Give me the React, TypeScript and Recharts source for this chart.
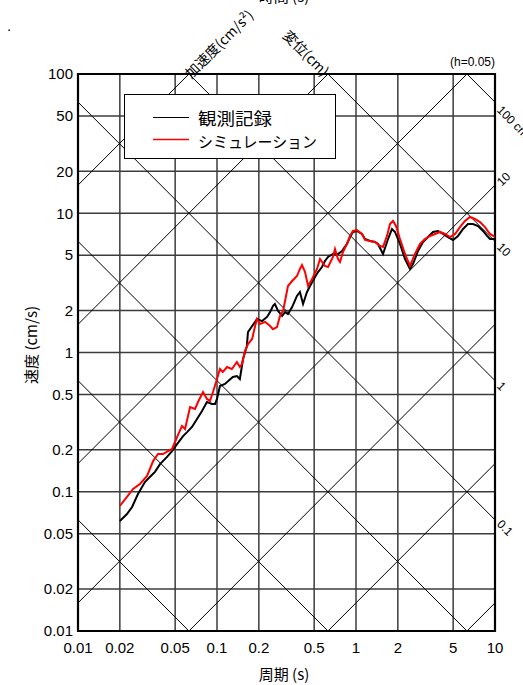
import React from 'react';
import {
  LineChart,
  Line,
  XAxis,
  YAxis,
  CartesianGrid,
  ReferenceLine,
  ReferenceArea,
} from 'recharts';

// ---- data (period in s, pseudo velocity response in cm/s, h=0.05) ----
const obsPeriods = [
  0.02, 0.0225, 0.0245, 0.027, 0.0303, 0.033, 0.0358, 0.0389, 0.0437, 0.0475,
  0.0516, 0.057, 0.0609, 0.0661, 0.0718, 0.078, 0.0847, 0.092, 0.0968, 0.1,
  0.105, 0.114, 0.13, 0.139, 0.146, 0.154, 0.164, 0.167, 0.179, 0.188,
  0.194, 0.211, 0.229, 0.241, 0.253, 0.261, 0.275, 0.294, 0.309, 0.324,
  0.347, 0.376, 0.395, 0.416, 0.444, 0.467, 0.507, 0.533, 0.569, 0.598,
  0.629, 0.683, 0.742, 0.793, 0.861, 0.906, 0.951, 1.016, 1.104, 1.161,
  1.261, 1.37, 1.439, 1.564, 1.7, 1.815, 1.908, 2.073, 2.252, 2.445,
  2.57, 2.793, 3.034, 3.296, 3.58, 3.89, 4.23, 4.59, 4.99, 5.42,
  5.89, 6.39, 6.94, 7.55, 8.2, 8.76, 9.2, 10,
];
const obsVelocity = [
  0.0617, 0.0692, 0.0777, 0.0964, 0.1175, 0.128, 0.139, 0.158, 0.178, 0.196,
  0.22, 0.251, 0.268, 0.292, 0.333, 0.38, 0.441, 0.427, 0.427, 0.464,
  0.575, 0.594, 0.667, 0.678, 0.645, 0.898, 1.11, 1.4, 1.55, 1.66,
  1.74, 1.68, 1.8, 1.95, 2.16, 2.23, 1.99, 1.83, 1.95, 1.89,
  2.12, 2.55, 2.72, 2.23, 2.72, 3.0, 3.48, 3.78, 4.11, 4.54,
  4.85, 5.1, 5.1, 5.36, 6.02, 6.75, 7.34, 7.46, 7.1, 6.53,
  6.32, 6.22, 6.02, 5.1, 6.53, 7.71, 7.34, 6.02, 4.69, 3.98,
  4.32, 5.36, 6.22, 6.75, 7.34, 7.46, 7.1, 6.75, 6.43, 6.87,
  7.71, 8.37, 8.37, 8.1, 7.46, 6.87, 6.53, 6.53,
];

const simPeriods = [
  0.02, 0.0225, 0.0249, 0.0279, 0.0314, 0.0347, 0.0376, 0.0409, 0.0444, 0.0475,
  0.0516, 0.056, 0.0589, 0.064, 0.0695, 0.073, 0.0793, 0.0847, 0.0891, 0.0936,
  0.1, 0.105, 0.11, 0.118, 0.128, 0.139, 0.146, 0.151, 0.159, 0.167,
  0.179, 0.188, 0.194, 0.204, 0.222, 0.241, 0.253, 0.27, 0.284, 0.299,
  0.324, 0.347, 0.376, 0.395, 0.409, 0.43, 0.452, 0.483, 0.524, 0.551,
  0.598, 0.629, 0.683, 0.706, 0.742, 0.767, 0.806, 0.861, 0.906, 0.951,
  1.016, 1.104, 1.161, 1.261, 1.37, 1.488, 1.564, 1.671, 1.756, 1.846,
  1.94, 2.073, 2.252, 2.445, 2.658, 2.886, 3.135, 3.41, 3.7, 4.02,
  4.37, 4.75, 5.16, 5.6, 6.08, 6.61, 7.18, 7.8, 8.47, 9.2, 10,
];
const simVelocity = [
  0.079, 0.0918, 0.1047, 0.1137, 0.1298, 0.166, 0.1866, 0.1866, 0.196, 0.203,
  0.247, 0.297, 0.282, 0.406, 0.393, 0.441, 0.52, 0.464, 0.449, 0.52,
  0.645, 0.761, 0.724, 0.787, 0.761, 0.855, 0.787, 0.827, 1.025, 1.15,
  1.25, 1.55, 1.74, 1.6, 1.66, 1.55, 1.47, 1.52, 1.83, 1.99,
  3.0, 3.26, 3.54, 3.98, 4.25, 3.78, 3.0, 3.37, 3.98, 4.69,
  4.18, 4.11, 4.85, 5.54, 4.69, 4.47, 5.27, 6.02, 6.87, 7.46,
  7.58, 7.1, 6.43, 6.32, 6.22, 5.82, 5.72, 6.87, 8.37, 8.8,
  8.1, 6.53, 5.1, 4.18, 5.1, 6.02, 6.53, 6.87, 7.1, 7.34,
  7.1, 6.75, 7.1, 7.96, 8.8, 9.4, 9.09, 8.65, 7.96, 7.1, 6.75,
];

const xTicks = [0.01, 0.02, 0.05, 0.1, 0.2, 0.5, 1, 2, 5, 10];
const yTicks = [0.01, 0.02, 0.05, 0.1, 0.2, 0.5, 1, 2, 5, 10, 20, 50, 100];
const xMinorTicks = [
  0.03, 0.04, 0.06, 0.07, 0.08, 0.09, 0.3, 0.4, 0.6, 0.7, 0.8, 0.9, 3, 4, 6, 7, 8, 9,
];
const yMinorTicks = [
  0.03, 0.04, 0.06, 0.07, 0.08, 0.09, 0.3, 0.4, 0.6, 0.7, 0.8, 0.9,
  3, 4, 6, 7, 8, 9, 30, 40, 60, 70, 80, 90,
];
// tripartite guide levels
const displacementLevels = [0.0001, 0.001, 0.01, 0.1, 1, 10, 100]; // cm
const accelerationLevels = [0.01, 0.1, 1, 10, 100, 1000, 10000]; // cm/s^2

const seriesNames = ['観測記録', 'シミュレーション'];
const xTitle = '周期 (s)';
const yTitle = '速度 (cm/s)';
const topTitle = '時間 (s)';

const X_DOMAIN: [number, number] = [0.01, 10];
const Y_DOMAIN: [number, number] = [0.01, 100];
const TWO_PI = 2 * Math.PI;

const obsData = obsPeriods.map((t, i) => ({ t, v: obsVelocity[i] }));
const simData = simPeriods.map((t, i) => ({ t, v: simVelocity[i] }));

type Seg = [{ x: number; y: number }, { x: number; y: number }];

const dispSegments: Seg[] = displacementLevels
  .map((d) => {
    const c = TWO_PI * d; // V = c / T
    const t1 = Math.max(X_DOMAIN[0], c / Y_DOMAIN[1]);
    const t2 = Math.min(X_DOMAIN[1], c / Y_DOMAIN[0]);
    if (t1 >= t2) return null;
    return [
      { x: t1, y: c / t1 },
      { x: t2, y: c / t2 },
    ] as Seg;
  })
  .filter((s): s is Seg => s !== null);

const accSegments: Seg[] = accelerationLevels
  .map((a) => {
    const k = a / TWO_PI; // V = k * T
    const t1 = Math.max(X_DOMAIN[0], Y_DOMAIN[0] / k);
    const t2 = Math.min(X_DOMAIN[1], Y_DOMAIN[1] / k);
    if (t1 >= t2) return null;
    return [
      { x: t1, y: k * t1 },
      { x: t2, y: k * t2 },
    ] as Seg;
  })
  .filter((s): s is Seg => s !== null);

const LATIN = "'Liberation Sans', Arial, 'Noto Sans CJK JP', sans-serif";
const JP = "'Noto Sans CJK JP', 'Liberation Sans', sans-serif";

const fmt = (v: number) => String(v);

export default function App() {
  const tickStyle = { fill: '#000', fontSize: 15, fontFamily: LATIN };
  return (
    <div style={{ position: 'absolute', left: 0, top: 0, width: 523, height: 685, background: '#fff' }}>
      <LineChart
        width={523}
        height={685}
        margin={{ top: 74, right: 28, bottom: 14, left: 18 }}
      >
        <CartesianGrid stroke="#3c3c3c" strokeWidth={1.5} fill="none" />
        <XAxis
          dataKey="t"
          type="number"
          scale="log"
          domain={X_DOMAIN}
          allowDataOverflow
          ticks={xTicks}
          interval={0}
          tickFormatter={fmt}
          axisLine={false}
          tickLine={false}
          tickSize={0}
          tickMargin={11}
          height={40}
          tick={tickStyle}
        />
        <YAxis
          type="number"
          scale="log"
          domain={Y_DOMAIN}
          allowDataOverflow
          ticks={yTicks}
          interval={0}
          tickFormatter={fmt}
          axisLine={false}
          tickLine={false}
          tickSize={0}
          tickMargin={5}
          width={60}
          tick={tickStyle}
        />
        {/* inward minor ticks on all four sides */}
        <XAxis
          xAxisId="minorBottom"
          orientation="bottom"
          mirror
          type="number"
          scale="log"
          domain={X_DOMAIN}
          allowDataOverflow
          ticks={xMinorTicks}
          interval={0}
          tick={false}
          axisLine={false}
          tickSize={7}
          height={1}
          stroke="#000"
          tickLine={{ stroke: '#000', strokeWidth: 1.3 }}
        />
        <XAxis
          xAxisId="minorTop"
          orientation="top"
          mirror
          type="number"
          scale="log"
          domain={X_DOMAIN}
          allowDataOverflow
          ticks={xMinorTicks}
          interval={0}
          tick={false}
          axisLine={false}
          tickSize={7}
          height={1}
          stroke="#000"
          tickLine={{ stroke: '#000', strokeWidth: 1.3 }}
        />
        <YAxis
          yAxisId="minorLeft"
          orientation="left"
          mirror
          type="number"
          scale="log"
          domain={Y_DOMAIN}
          allowDataOverflow
          ticks={yMinorTicks}
          interval={0}
          tick={false}
          axisLine={false}
          tickSize={7}
          width={1}
          stroke="#000"
          tickLine={{ stroke: '#000', strokeWidth: 1.3 }}
        />
        <YAxis
          yAxisId="minorRight"
          orientation="right"
          mirror
          type="number"
          scale="log"
          domain={Y_DOMAIN}
          allowDataOverflow
          ticks={yMinorTicks}
          interval={0}
          tick={false}
          axisLine={false}
          tickSize={7}
          width={1}
          stroke="#000"
          tickLine={{ stroke: '#000', strokeWidth: 1.3 }}
        />
        {dispSegments.map((s, i) => (
          <ReferenceLine
            key={`d${i}`}
            segment={s}
            stroke="#000"
            strokeWidth={1}
            ifOverflow="hidden"
          />
        ))}
        {accSegments.map((s, i) => (
          <ReferenceLine
            key={`a${i}`}
            segment={s}
            stroke="#000"
            strokeWidth={1}
            ifOverflow="hidden"
          />
        ))}
        <ReferenceArea
          x1={X_DOMAIN[0]}
          x2={X_DOMAIN[1]}
          y1={Y_DOMAIN[0]}
          y2={Y_DOMAIN[1]}
          fill="none"
          fillOpacity={0}
          stroke="#000"
          strokeWidth={2.2}
          ifOverflow="visible"
        />
        <Line
          data={obsData}
          dataKey="v"
          name={seriesNames[0]}
          type="linear"
          stroke="#000"
          strokeWidth={2}
          dot={false}
          isAnimationActive={false}
        />
        <Line
          data={simData}
          dataKey="v"
          name={seriesNames[1]}
          type="linear"
          stroke="#ff0000"
          strokeWidth={2}
          dot={false}
          isAnimationActive={false}
        />
      </LineChart>
      <svg
        width={523}
        height={685}
        style={{ position: 'absolute', left: 0, top: 0, pointerEvents: 'none' }}
      >
        {/* titles */}
        <text x={284} y={2} textAnchor="middle" fontSize={15} fontFamily={JP} fill="#000">
          {topTitle}
        </text>
        <text x={7} y={31} fontSize={15} fontFamily={LATIN} fill="#000">.</text>
        <text x={284} y={680} textAnchor="middle" fontSize={15} fontFamily={JP} fill="#000">
          {xTitle}
        </text>
        <text
          x={30}
          y={345}
          textAnchor="middle"
          dominantBaseline="central"
          fontSize={15}
          fontFamily={JP}
          fill="#000"
          transform="rotate(-90 30 345)"
        >
          {yTitle}
        </text>
        {/* guide axis names */}
        <text
          x={187}
          y={75}
          dominantBaseline="central"
          fontSize={14}
          fontFamily={JP}
          fill="#000"
          transform="rotate(-45 187 75)"
        >
          加速度(cm/s²)
        </text>
        <text
          x={327}
          y={73}
          textAnchor="end"
          dominantBaseline="central"
          fontSize={14}
          fontFamily={JP}
          fill="#000"
          transform="rotate(45 327 73)"
        >
          変位(cm)
        </text>
        <text x={495} y={66} textAnchor="end" fontSize={12} fontFamily={LATIN} fill="#000">
          (h=0.05)
        </text>
        {/* right side guide values */}
        <text x={499} y={108} dominantBaseline="central" fontSize={12} fontFamily={LATIN} fill="#000" transform="rotate(45 499 108)">100 cm</text>
        <text x={499} y={184} dominantBaseline="central" fontSize={12} fontFamily={LATIN} fill="#000" transform="rotate(-45 499 184)">10</text>
        <text x={499} y={245} dominantBaseline="central" fontSize={12} fontFamily={LATIN} fill="#000" transform="rotate(45 499 245)">10</text>
        <text x={499} y={384} dominantBaseline="central" fontSize={12} fontFamily={LATIN} fill="#000" transform="rotate(45 499 384)">1</text>
        <text x={499} y={522} dominantBaseline="central" fontSize={12} fontFamily={LATIN} fill="#000" transform="rotate(45 499 522)">0.1</text>
        {/* legend */}
        <rect x={124.5} y={94.5} width={211} height={64} fill="#fff" stroke="#000" strokeWidth={1} />
        <line x1={153} y1={117.5} x2={189} y2={117.5} stroke="#000000" strokeWidth={1.2} />
        <line x1={153} y1={139.5} x2={189} y2={139.5} stroke="#ff0000" strokeWidth={1.4} />
        <text x={198} y={118} dominantBaseline="central" fontSize={16.5} textLength={74} lengthAdjust="spacingAndGlyphs" fontFamily={JP} fill="#000">
          {seriesNames[0]}
        </text>
        <text x={198} y={141} dominantBaseline="central" fontSize={15.5} textLength={119} lengthAdjust="spacingAndGlyphs" fontFamily={JP} fill="#000">
          {seriesNames[1]}
        </text>
      </svg>
    </div>
  );
}
